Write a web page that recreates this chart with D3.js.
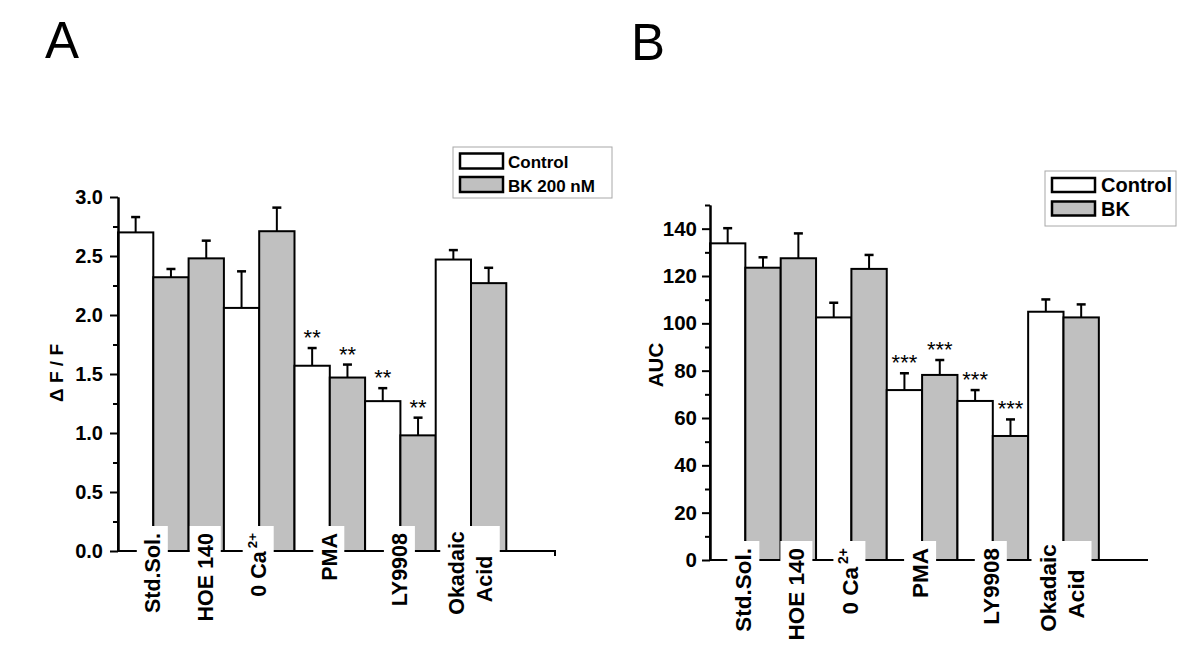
<!DOCTYPE html>
<html>
<head>
<meta charset="utf-8">
<script src="https://cdn.jsdelivr.net/npm/d3@7"></script>
<style>
  html, body { margin: 0; padding: 0; background: #fff; }
  svg { display: block; }
  text { font-family: "Liberation Sans", Arial, sans-serif; }
</style>
</head>
<body>
<svg id="chart" width="1200" height="652"></svg>
<script>
// ---------------- DATA ----------------
const categories = ["Std.Sol.", "HOE 140", "0 Ca", "PMA", "LY9908", "Okadaic Acid"];
const categoryLines = [["Std.Sol."], ["HOE 140"], ["0 Ca"], ["PMA"], ["LY9908"], ["Okadaic", "Acid"]];
const categorySup = ["", "", "2+", "", "", ""];

// Panel A : ΔF/F
const controlA    = [2.70, null, 2.06, 1.57, 1.27, 2.47];
const controlAErr = [0.13, null, 0.31, 0.15, 0.11, 0.08];
const bkA         = [2.32, 2.48, 2.71, 1.47, 0.98, 2.27];
const bkAErr      = [0.07, 0.15, 0.20, 0.11, 0.15, 0.13];
const controlASig = ["", "", "", "**", "**", ""];
const bkASig      = ["", "", "", "**", "**", ""];
const ticksA      = [0, 0.5, 1.0, 1.5, 2.0, 2.5, 3.0];
const minorTicksA = [0.25, 0.75, 1.25, 1.75, 2.25, 2.75];
const legendA     = ["Control", "BK 200 nM"];

// Panel B : AUC
const controlB    = [133.8, null, 102.5, 71.8, 67.2, 104.9];
const controlBErr = [6.4, null, 6.2, 7.1, 4.6, 5.2];
const bkB         = [123.5, 127.5, 123.0, 78.2, 52.4, 102.5];
const bkBErr      = [4.4, 10.5, 5.9, 6.3, 7.0, 5.5];
const controlBSig = ["", "", "", "***", "***", ""];
const bkBSig      = ["", "", "", "***", "***", ""];
const ticksB      = [0, 20, 40, 60, 80, 100, 120, 140];
const minorTicksB = [10, 30, 50, 70, 90, 110, 130, 150];
const legendB     = ["Control", "BK"];

// ---------------- DRAW ----------------
const svg = d3.select("#chart");
const FONT = "'Liberation Sans', Arial, sans-serif";
const GRAY = "#c0c0c0";

function drawPanel(p) {
  const g = svg.append("g");

  // slots: one per drawn bar
  const slots = [];
  categories.forEach((c, i) => {
    if (p.control[i] != null) slots.push({cat: i, series: 0, v: p.control[i], e: p.controlErr[i], sig: p.controlSig[i]});
    if (p.bk[i] != null) slots.push({cat: i, series: 1, v: p.bk[i], e: p.bkErr[i], sig: p.bkSig[i]});
  });

  const x = d3.scaleBand().domain(d3.range(slots.length))
    .range([p.x0, p.x0 + slots.length * p.slotW]).padding(0);
  const y = d3.scaleLinear().domain(p.domain).range([p.y0, p.yTop]);

  // bars
  g.selectAll("rect.bar").data(slots).enter().append("rect")
    .attr("x", (d, i) => x(i))
    .attr("width", x.bandwidth())
    .attr("y", d => y(d.v))
    .attr("height", d => y(0) - y(d.v))
    .attr("fill", d => d.series === 0 ? "#fff" : GRAY)
    .attr("stroke", "#000").attr("stroke-width", 2);

  // error bars (upper only)
  const eb = g.selectAll("g.err").data(slots).enter().append("g");
  eb.append("line")
    .attr("x1", (d, i) => x(i) + x.bandwidth() / 2)
    .attr("x2", (d, i) => x(i) + x.bandwidth() / 2)
    .attr("y1", d => y(d.v)).attr("y2", d => y(d.v + d.e))
    .attr("stroke", "#000").attr("stroke-width", 2);
  eb.append("line")
    .attr("x1", (d, i) => x(i) + x.bandwidth() / 2 - 4.5)
    .attr("x2", (d, i) => x(i) + x.bandwidth() / 2 + 4.5)
    .attr("y1", d => y(d.v + d.e)).attr("y2", d => y(d.v + d.e))
    .attr("stroke", "#000").attr("stroke-width", 2.5);

  // significance stars
  g.selectAll("text.sig").data(slots.filter(d => d.sig)).enter().append("text")
    .attr("x", d => x(slots.indexOf(d)) + x.bandwidth() / 2)
    .attr("y", d => y(d.v + d.e) - 3)
    .attr("text-anchor", "middle")
    .attr("font-size", 22)
    .attr("font-family", FONT)
    .text(d => d.sig);

  // x axis line
  const xEnd = p.x0 + p.axisLen;
  g.append("path")
    .attr("d", `M${p.x0},${p.y0}H${xEnd}` + (p.endTick ? `V${p.y0 + 5}` : ""))
    .attr("fill", "none").attr("stroke", "#000").attr("stroke-width", 2);

  // y axis
  const minor = g.append("g").attr("transform", `translate(${p.x0},0)`)
    .call(d3.axisLeft(y).tickValues(p.minorTicks).tickSize(p.minorLen).tickSizeOuter(0).tickFormat(""));
  const major = g.append("g").attr("transform", `translate(${p.x0},0)`)
    .call(d3.axisLeft(y).tickValues(p.ticks).tickSize(p.majorLen).tickSizeOuter(0)
      .tickPadding(p.tickPad).tickFormat(p.fmt));
  [minor, major].forEach(a => {
    a.selectAll("path, line").attr("stroke", "#000").attr("stroke-width", 2);
  });
  major.selectAll("text")
    .attr("font-family", FONT).attr("font-size", p.tickFont)
    .attr("font-weight", "bold").attr("fill", "#000");

  // y title
  g.append("text")
    .attr("transform", `translate(${p.titleX},${p.titleY}) rotate(-90)`)
    .attr("text-anchor", "middle")
    .attr("font-family", FONT).attr("font-size", p.titleFont).attr("font-weight", "bold")
    .text(p.title);

  // category labels with white boxes
  categories.forEach((c, ci) => {
    const idx = slots.map((s, i) => s.cat === ci ? i : -1).filter(i => i >= 0);
    const cx = d3.mean(idx, i => x(i) + x.bandwidth() / 2) + p.labelDx;
    const lines = categoryLines[ci];
    const lh = p.lineH;
    const w = lines.length === 1 ? p.boxW : p.boxW + lh;
    const top = p.y0 - p.labelRise;
    g.append("rect")
      .attr("x", cx - w / 2).attr("width", w)
      .attr("y", top - 7).attr("height", 105)
      .attr("fill", "#fff");
    lines.forEach((ln, li) => {
      const lx = cx + (li - (lines.length - 1) / 2) * lh;
      const t = g.append("text")
        .attr("font-family", FONT).attr("font-size", p.labelFont).attr("font-weight", "bold");
      if (lines.length === 1) {
        t.attr("transform", `translate(${lx},${top}) rotate(-90)`)
         .attr("text-anchor", "end").attr("dy", "0.36em");
      } else {
        const midY = top + p.twoLineMid + (li === 1 ? 6 : 0);
        t.attr("transform", `translate(${lx},${midY}) rotate(-90)`)
         .attr("text-anchor", "middle").attr("dy", "0.36em");
      }
      t.append("tspan").text(ln);
      if (categorySup[ci]) {
        t.append("tspan").attr("font-size", p.labelFont * 0.62)
          .attr("dx", 3).attr("dy", -p.labelFont * 0.42).text(categorySup[ci]);
      }
    });
  });

  // legend
  const L = p.legend;
  g.append("rect").attr("x", L.x).attr("y", L.y).attr("width", L.w).attr("height", L.h)
    .attr("fill", "#fff").attr("stroke", "#a8a8a8").attr("stroke-width", 1);
  p.legendLabels.forEach((lab, i) => {
    g.append("rect")
      .attr("x", L.x + L.sx).attr("y", L.y + L.sy + i * L.dy)
      .attr("width", L.sw).attr("height", L.sh)
      .attr("fill", i === 0 ? "#fff" : GRAY)
      .attr("stroke", "#000").attr("stroke-width", 2.5);
    g.append("text")
      .attr("x", L.x + L.tx).attr("y", L.y + L.ty + i * L.dy)
      .attr("font-family", FONT).attr("font-size", L.font).attr("font-weight", "bold")
      .text(lab);
  });

  // panel letter
  g.append("text").attr("x", p.letterX).attr("y", p.letterY)
    .attr("font-family", FONT).attr("font-size", 51)
    .text(p.letter);
}

drawPanel({
  letter: "A", letterX: 45, letterY: 58,
  control: controlA, controlErr: controlAErr, controlSig: controlASig,
  bk: bkA, bkErr: bkAErr, bkSig: bkASig,
  domain: [0, 3], x0: 118, y0: 551, yTop: 197, slotW: 35.3, axisLen: 437, endTick: true,
  ticks: ticksA, minorTicks: minorTicksA, fmt: d3.format(".1f"),
  majorLen: 8, minorLen: 5, tickPad: 7, tickFont: 20,
  title: "\u0394 F / F", titleX: 63, titleY: 373, titleFont: 19,
  labelFont: 21.5, labelRise: 18, labelDx: -1, lineH: 28.5, boxW: 31, twoLineMid: 40,
  legend: {x: 453, y: 147, w: 159, h: 51, sx: 7, sy: 6.5, sw: 43, sh: 15, dy: 23.5,
           tx: 55, ty: 21, font: 17},
  legendLabels: legendA
});

drawPanel({
  letter: "B", letterX: 631, letterY: 60,
  control: controlB, controlErr: controlBErr, controlSig: controlBSig,
  bk: bkB, bkErr: bkBErr, bkSig: bkBSig,
  domain: [0, 150], x0: 710, y0: 560, yTop: 205, slotW: 35.35, axisLen: 438, endTick: false,
  ticks: ticksB, minorTicks: minorTicksB, fmt: d3.format("d"),
  majorLen: 8, minorLen: 5, tickPad: 5, tickFont: 20.5,
  title: "AUC", titleX: 663, titleY: 365, titleFont: 20.5,
  labelFont: 22.5, labelRise: 12, labelDx: -2, lineH: 28, boxW: 32, twoLineMid: 40,
  legend: {x: 1045, y: 171, w: 131, h: 55, sx: 7, sy: 7, sw: 43, sh: 14, dy: 23.5,
           tx: 56, ty: 21, font: 20},
  legendLabels: legendB
});
</script>
</body>
</html>
